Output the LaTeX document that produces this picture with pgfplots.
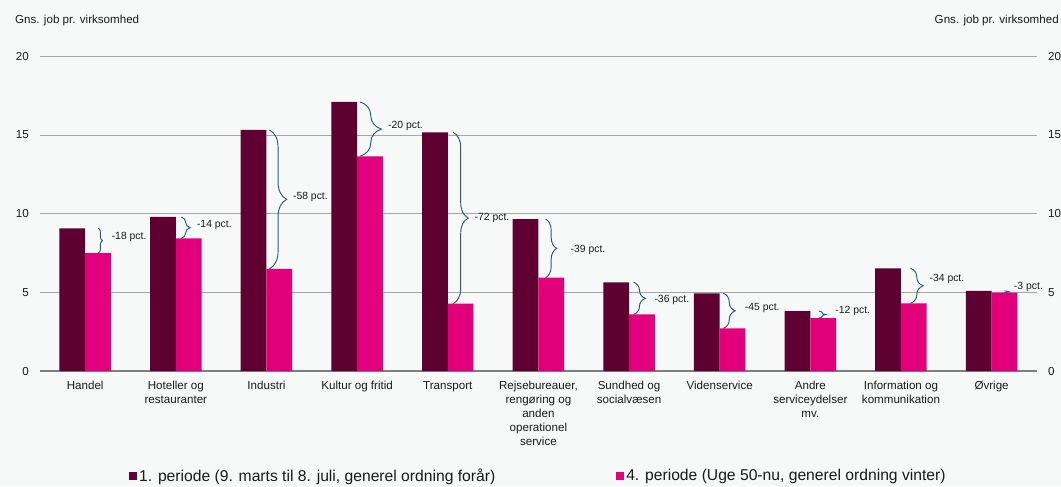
\documentclass[border=0pt]{standalone}
\usepackage{pgfplots}
\pgfplotsset{compat=1.18}
\usepackage{pgfplotstable}
\usepackage{fontspec}
\setmainfont{Liberation Sans}
\usetikzlibrary{decorations.pathreplacing,calc}
\definecolor{darkbar}{HTML}{5E0030}
\definecolor{pinkbar}{HTML}{E2007A}
\definecolor{bracecol}{HTML}{2A5878}
\definecolor{bgcol}{HTML}{F7F9F9}
\definecolor{gridcol}{HTML}{A6A6A6}
\definecolor{zerocol}{HTML}{7F7F7F}
\definecolor{txtcol}{HTML}{1A1A1A}

\pgfplotstableread{
x p1 p4
0 9.07 7.50
1 9.79 8.43
2 15.32 6.50
3 17.10 13.65
4 15.17 4.28
5 9.66 5.93
6 5.64 3.60
7 4.94 2.71
8 3.81 3.37
9 6.53 4.30
10 5.09 4.98
}\datatable

% x, ytop, ybot, amplitude, label, yshift, label xshift
\newcommand{\brc}[7]{%
  \draw[bracecol, line width=0.7pt, decorate, decoration={brace, amplitude=#4}]
    (axis cs:#1,#2) -- (axis cs:#1,#3);
  \node[anchor=west, font=\fontsize{7.8}{9}\selectfont, inner sep=0pt, text=txtcol]
    at ($(axis cs:#1,#2)!0.5!(axis cs:#1,#3)$) [xshift=#7, yshift=#6] {#5 pct.};
}

\begin{document}
\begin{tikzpicture}
\fill[bgcol] (-29.9pt,-86.25pt) rectangle (765.8pt,278.25pt);
\path[use as bounding box] (-29.9pt,-86.25pt) rectangle (765.8pt,278.25pt);

\node[anchor=west, font=\fontsize{8.7}{10}\selectfont, text=txtcol, inner sep=0pt] at (-18.7pt,262.5pt) {Gns. job pr. virksomhed};
\node[anchor=east, font=\fontsize{8.7}{10}\selectfont, text=txtcol, inner sep=0pt] at (764.3pt,262.5pt) {Gns. job pr. virksomhed};

\begin{axis}[
  at={(0,0)}, anchor=south west, scale only axis,
  width=747.75pt, height=236pt,
  xmin=-0.5, xmax=10.5, ymin=0, ymax=20,
  clip=false,
  ybar=0pt, bar width=19.3pt,
  axis x line*=bottom, axis y line*=left,
  x axis line style={-, draw=zerocol, line width=0.8pt},
  y axis line style={draw=none},
  ytick={0,5,10,15,20}, ytick style={draw=none},
  ymajorgrids, grid style={draw=gridcol, line width=0.7pt},
  xtick={0,...,10}, xtick style={draw=none},
  xticklabels={Handel, Hoteller og\\restauranter, Industri, Kultur og fritid, Transport,
    {Rejsebureauer,\\rengøring og\\anden\\operationel\\service},
    Sundhed og\\socialvæsen, Videnservice, Andre\\serviceydelser\\mv.,
    Information og\\kommunikation, Øvrige},
  xticklabel style={align=center, font=\fontsize{8.7}{10.5}\selectfont, text=txtcol, yshift=0pt},
  yticklabel style={font=\fontsize{8.7}{10}\selectfont, text=txtcol, xshift=-4.8pt},
  /pgf/number format/assume math mode=true,
  extra x ticks={-0.5,0.5,...,10.5}, extra x tick labels={},
  extra x tick style={major tick length=4pt, tick align=outside, tick style={draw=zerocol, line width=0.7pt}, grid=none},
  legend style={at={(0.5,-0.333)}, anchor=center, draw=none, fill=none,
    legend columns=2, font=\fontsize{11.75}{14}\selectfont, text=txtcol,
    nodes={inner xsep=1.6pt},
    /tikz/every even column/.append style={column sep=89pt}},
  legend cell align=left,
]
\addplot[fill=darkbar, draw=none,
  legend image code/.code={\fill[darkbar] (0pt,-3pt) rectangle (6pt,3pt);}]
  table[x=x, y=p1] {\datatable};
\addlegendentry{1. periode (9. marts til 8. juli, generel ordning forår)}
\addplot[fill=pinkbar, draw=none,
  legend image code/.code={\fill[pinkbar] (0pt,-3pt) rectangle (6pt,3pt);}]
  table[x=x, y=p4] {\datatable};
\addlegendentry{4. periode (Uge 50-nu, generel ordning vinter)}

\brc{0.146}{9.07}{7.50}{3pt}{-18}{2.5pt}{9.8pt}
\brc{1.060}{9.79}{8.43}{6.6pt}{-14}{1.7pt}{11.6pt}
\brc{2.033}{15.32}{6.50}{12.9pt}{-58}{1.7pt}{17.5pt}
\brc{3.033}{17.10}{13.65}{16pt}{-20}{2pt}{20.8pt}
\brc{4.059}{15.17}{4.28}{11.4pt}{-72}{0pt}{16pt}
\brc{5.079}{9.66}{5.93}{8.4pt}{-39}{-1pt}{18.6pt}
\brc{6.050}{5.64}{3.60}{8.9pt}{-36}{-1pt}{15.5pt}
\brc{7.040}{4.94}{2.71}{8.9pt}{-45}{2.3pt}{16pt}
\brc{8.094}{3.81}{3.37}{5.1pt}{-12}{2.4pt}{12.2pt}
\brc{9.104}{6.53}{4.30}{9.6pt}{-34}{5pt}{14.2pt}
\brc{10.141}{5.09}{4.98}{4.5pt}{-3}{4pt}{7pt}
\end{axis}

\begin{axis}[
  at={(0,0)}, anchor=south west, scale only axis,
  width=747.75pt, height=236pt,
  xmin=-0.5, xmax=10.5, ymin=0, ymax=20,
  hide x axis, axis y line*=right,
  y axis line style={draw=none},
  ytick={0,5,10,15,20}, ytick style={draw=none},
  yticklabel style={font=\fontsize{8.7}{10}\selectfont, text=txtcol, xshift=4.8pt},
  /pgf/number format/assume math mode=true,
]
\addplot[draw=none] coordinates {(0,0)};
\end{axis}
\end{tikzpicture}
\end{document}
